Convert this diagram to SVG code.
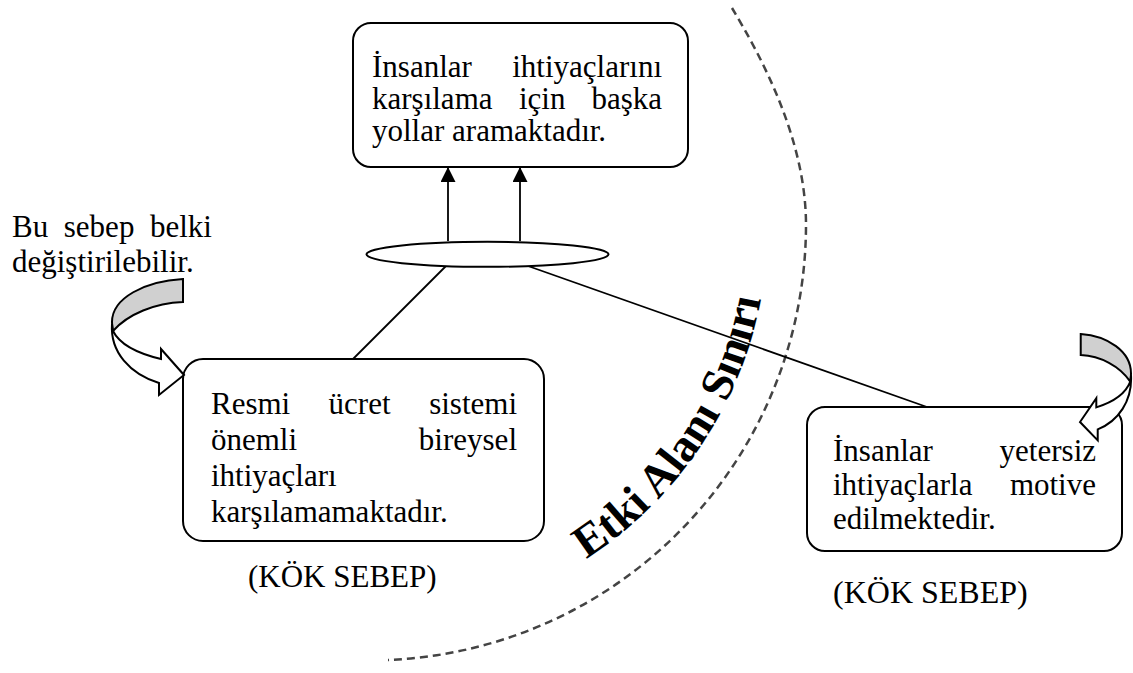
<svg xmlns="http://www.w3.org/2000/svg" width="1133" height="673" viewBox="0 0 1133 673">
  <style>
    .box { fill: #fff; stroke: #000; stroke-width: 2; }
    .t { font-family: "Liberation Serif", "Times New Roman", serif; font-size: 31px; fill: #000; }
    .e { text-anchor: end; }
    .conn { stroke: #000; stroke-width: 1.8; fill: none; }
    .bend { stroke: #000; stroke-width: 2; stroke-linejoin: miter; }
    .boundary { fill: none; stroke: #444; stroke-width: 2.5; stroke-dasharray: 8 5; }
    .arc-label { font-family: "Liberation Serif", "Times New Roman", serif; font-size: 46px; font-weight: bold; fill: #000; }
  </style>
  <defs>
    <marker id="head" viewBox="0 0 15 15" refX="15" refY="7.5" markerWidth="15" markerHeight="15" markerUnits="userSpaceOnUse" orient="auto">
      <path d="M0,0 L15,7.5 L0,15 Z" fill="#000"/>
    </marker>
    <path id="arcText" d="M586,559 A398,398 0 0 0 768,225"/>
    <!-- curved ribbon arrow: shaded back half + white front half with head -->
    <g id="ribbon">
      <path class="bend" fill="#d0d0d0" vector-effect="non-scaling-stroke" d="M183,279 C145,281 112,298 112,322 Q112,328 113,331 C128,314 155,303 183,302 Z"/>
      <path class="bend" fill="#fff" vector-effect="non-scaling-stroke" d="M112,324 C110,352 130,374 159,383 L159,395 L184,375 L161,349 L161,359 C140,354 120,345 113,331 Z"/>
    </g>
  </defs>

  <!-- influence boundary -->
  <g id="boundary">
    <path class="boundary" d="M732,8 C762,58 806,140 806,225 A436,436 0 0 1 388,660"/>
    <text class="arc-label"><textPath href="#arcText">Etki Alanı Sınırı</textPath></text>
  </g>

  <!-- connectors -->
  <g id="connectors">
    <line class="conn" x1="448" y1="241" x2="448" y2="167" marker-end="url(#head)"/>
    <line class="conn" x1="520" y1="241" x2="520" y2="167" marker-end="url(#head)"/>
    <line class="conn" x1="446" y1="266" x2="353" y2="359"/>
    <line class="conn" x1="528" y1="266" x2="927" y2="407"/>
  </g>

  <!-- effect -->
  <g id="effect">
    <rect class="box" x="353" y="23" width="335" height="144" rx="18"/>
    <text class="t" x="372" y="77">İnsanlar</text>
    <text class="t e" x="662" y="77">ihtiyaçlarını</text>
    <text class="t" x="372" y="109">karşılama</text>
    <text class="t" x="519" y="109">için</text>
    <text class="t e" x="662" y="109">başka</text>
    <text class="t" x="372" y="141">yollar aramaktadır.</text>
  </g>

  <!-- junction -->
  <g id="junction">
    <ellipse cx="487.5" cy="254.3" rx="121" ry="12.5" fill="#fff" stroke="#000" stroke-width="2"/>
  </g>

  <!-- root cause 1 -->
  <g id="cause-pay">
    <rect class="box" x="183" y="359" width="361" height="182" rx="20"/>
    <text class="t" x="211" y="414">Resmi</text>
    <text class="t" x="328.6" y="414">ücret</text>
    <text class="t e" x="517" y="414">sistemi</text>
    <text class="t" x="211" y="450">önemli</text>
    <text class="t e" x="517" y="450">bireysel</text>
    <text class="t" x="211" y="486">ihtiyaçları</text>
    <text class="t" x="211" y="522">karşılamamaktadır.</text>
    <text class="t" x="248" y="587">(KÖK SEBEP)</text>
  </g>

  <!-- root cause 2 -->
  <g id="cause-needs">
    <rect class="box" x="807" y="407" width="315" height="144" rx="18"/>
    <text class="t" x="833" y="461">İnsanlar</text>
    <text class="t e" x="1096" y="461">yetersiz</text>
    <text class="t" x="833" y="495">ihtiyaçlarla</text>
    <text class="t e" x="1096" y="495">motive</text>
    <text class="t" x="833" y="529">edilmektedir.</text>
    <text class="t" x="833" y="603" style="font-size:32px">(KÖK SEBEP)</text>
  </g>

  <!-- note with bend arrow -->
  <g id="note">
    <text class="t" x="12" y="237">Bu</text>
    <text class="t" x="63.8" y="237">sebep</text>
    <text class="t e" x="212" y="237">belki</text>
    <text class="t" x="12" y="272">değiştirilebilir.</text>
    <use href="#ribbon"/>
  </g>

  <!-- right bend arrow -->
  <g id="bend-right">
    <use href="#ribbon" transform="translate(1131,334) scale(-0.708,0.917) translate(-112,-279)"/>
  </g>
</svg>
